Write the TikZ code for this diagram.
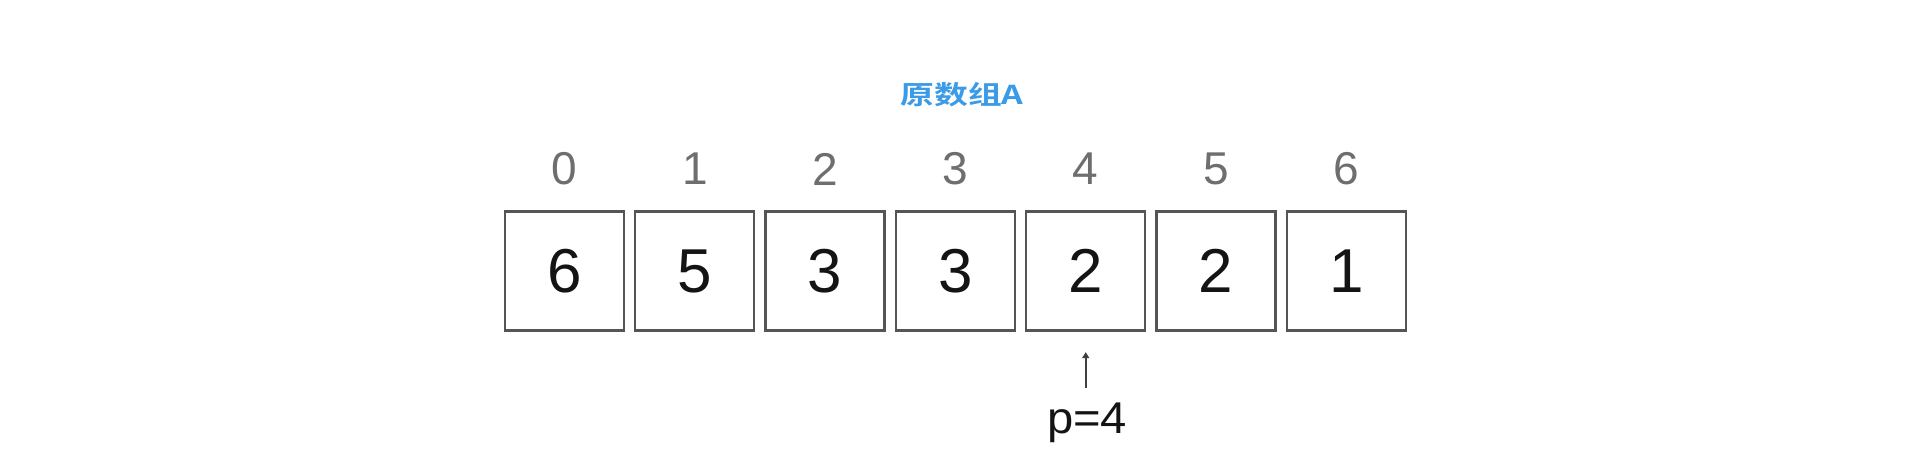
\documentclass[tikz,border=0pt]{standalone}
\usepackage{fontspec}
\setmainfont{Liberation Sans}
\newfontfamily\cjkbold[FakeStretch=1.3]{Noto Sans CJK SC Bold}
\newfontfamily\ptrfont[FakeStretch=1.06]{Liberation Sans}
\usetikzlibrary{arrows.meta}
\definecolor{idxgray}{HTML}{6E6E6E}
\definecolor{boxgray}{HTML}{555555}
\definecolor{titleblue}{HTML}{3A9BE8}
\tikzset{
  cell/.style={draw=boxgray, line width=2.3pt, minimum width=119pt, minimum height=119pt, inner sep=0pt, font=\fontsize{62}{62}\selectfont, text=black!92},
  idx/.style={inner sep=0pt, font=\fontsize{46}{46}\selectfont, text=idxgray},
  ptr/.style={inner sep=0pt, font=\ptrfont\fontsize{44.5}{44.5}\selectfont, text=black!92},
  ptrarrow/.style={draw=black!75, line width=1.8pt, -{Triangle[length=6pt,width=7pt]}},
  title/.style={inner sep=0pt, text=titleblue, font=\cjkbold\fontsize{26}{26}\selectfont}
}
\begin{document}
\begin{tikzpicture}[x=1pt,y=-1pt]
\useasboundingbox[fill=white] (0,0) rectangle (1922,456);
\foreach \i/\v in {0/6,1/5,2/3,3/3,4/2,5/2,6/1}{
  \node[cell] (c\i) at ({564.5+130.3*\i},271) {\v};
  \node[idx] (i\i) at ({564.5+130.3*\i},169) {\i};
}
\node[title] (t) at (962,94.5) {原数组A};
\node[ptr, anchor=base] (p) at (1087,433.3) {p=4};
\draw[ptrarrow, shorten <=14pt, shorten >=20.5pt] (p.north -| c4.south) -- (c4.south);
\end{tikzpicture}
\end{document}
